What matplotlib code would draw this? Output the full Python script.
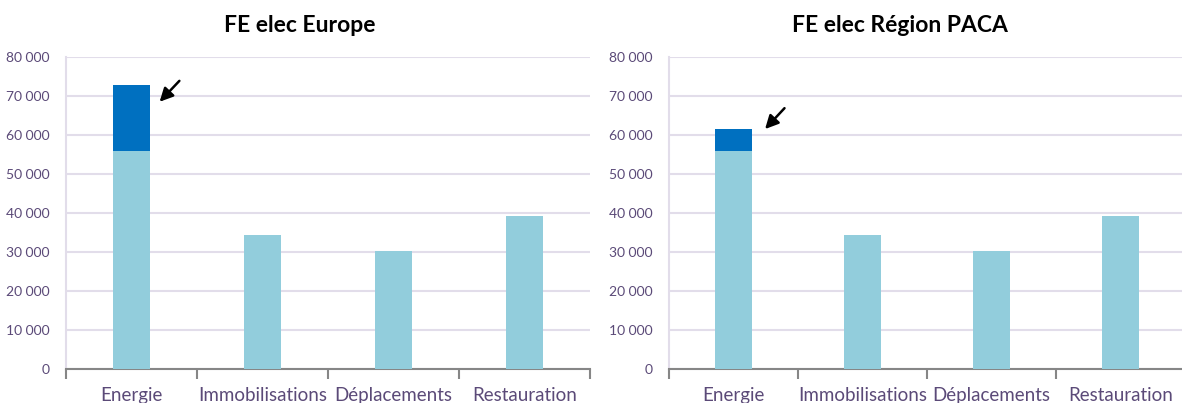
import matplotlib
matplotlib.use("Agg")
import matplotlib.pyplot as plt
from matplotlib.ticker import FuncFormatter, FixedLocator

categories = ["Energie", "Immobilisations", "Déplacements", "Restauration"]
base_values = [55900, 34300, 30200, 39200]
europe_extra = [16900, 0, 0, 0]
paca_extra = [5600, 0, 0, 0]
titles = ["FE elec Europe", "FE elec Région PACA"]
y_ticks = [0, 10000, 20000, 30000, 40000, 50000, 60000, 70000, 80000]

light = "#92CDDC"
dark = "#0070C0"
grid_c = "#E2DDEA"
text_c = "#5B4A78"
font = ["Lato", "DejaVu Sans"]

fig = plt.figure(figsize=(11.82, 4.03), dpi=100)
axes_rects = [
    [66 / 1182, 34 / 403, 524 / 1182, 312 / 403],
    [669 / 1182, 34 / 403, 516 / 1182, 312 / 403],
]
title_x = [300 / 1182, 900 / 1182]
arrows = [
    ((0.20, 68000), (0.38, 74400)),
    ((0.23, 61000), (0.41, 67400)),
]


def fmt(v, _):
    return f"{int(v):,}".replace(",", " ")


for rect, extra, title, tx, (tip, tail) in zip(axes_rects, [europe_extra, paca_extra],
                                               titles, title_x, arrows):
    ax = fig.add_axes(rect)
    x = list(range(len(categories)))
    ax.bar(x, base_values, width=0.29, color=light, zorder=3)
    ax.bar(x, extra, width=0.29, bottom=base_values, color=dark, zorder=3)
    ax.set_xlim(-0.5, len(categories) - 0.5)
    ax.set_ylim(0, 80000)
    ax.yaxis.set_major_locator(FixedLocator(y_ticks))
    ax.yaxis.set_major_formatter(FuncFormatter(fmt))
    ax.grid(axis="y", color=grid_c, linewidth=1.5, zorder=0)
    for s in ["top", "right"]:
        ax.spines[s].set_visible(False)
    ax.spines["left"].set_color(grid_c)
    ax.spines["left"].set_linewidth(1.5)
    ax.spines["bottom"].set_color("#868686")
    ax.spines["bottom"].set_linewidth(1.5)
    ax.tick_params(axis="y", length=0, pad=12, labelsize=10, labelcolor=text_c)
    ax.set_xticks(x)
    ax.set_xticklabels(categories, fontsize=13.5, color=text_c, family=font)
    ax.tick_params(axis="x", length=0, pad=13)
    ax.set_xticks([i - 0.5 for i in range(len(categories) + 1)], minor=True)
    ax.tick_params(axis="x", which="minor", length=7, width=1.5, color="#868686", direction="out")
    for lbl in ax.get_yticklabels():
        lbl.set_family(font)
    fig.text(tx, 1 - 25 / 403, title, fontsize=16.5, fontweight="bold", family=font,
             ha="center", va="center", color="black")
    ax.annotate("", xy=tip, xytext=tail,
                arrowprops=dict(arrowstyle="-|>,head_length=0.8,head_width=0.4",
                                color="black", lw=1.8),
                zorder=5)

fig.savefig("out.png", dpi=100)
